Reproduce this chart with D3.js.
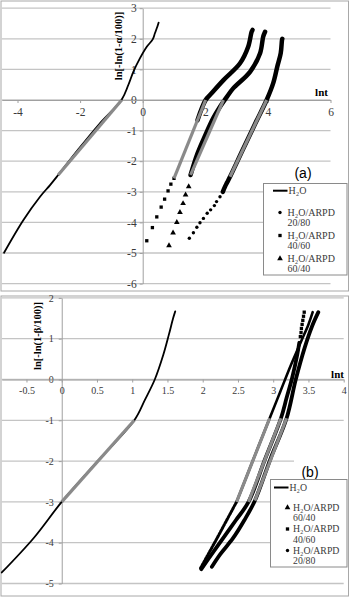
<!DOCTYPE html>
<html>
<head>
<meta charset="utf-8">
<script src="https://cdn.jsdelivr.net/npm/d3@7.8.5/dist/d3.min.js"></script>
<style>
  body { margin: 0; background: #fff; }
  svg { display: block; }
</style>
</head>
<body>
<svg id="chart" width="351" height="598"></svg>
<script>
// ---- panel (a): ln[-ln(1-alpha/100)] vs lnt ----
const aXTicks = [-4, -2, 0, 2, 4, 6];
const aYTicks = [3, 2, 1, 0, -1, -2, -3, -4, -5, -6];

const aH2O = [[-4.43, -4.99], [-3.81, -3.92], [-3.28, -3.16], [-2.96, -2.78], [-2.70, -2.45],
  [-2.07, -1.63], [-1.40, -0.80], [-0.67, 0.02], [-0.46, 0.49], [-0.30, 0.92], [-0.09, 1.36],
  [0.13, 1.74], [0.32, 1.98], [0.39, 2.18], [0.47, 2.40], [0.51, 2.53]];
const aH2OFit = [[-2.70, -2.45], [-0.67, 0.0]];

// 20/80 (circles)
const a2080Pts = [[1.49, -4.52], [1.62, -4.34], [1.73, -4.16], [1.83, -4.01], [1.94, -3.87],
  [2.06, -3.70], [2.17, -3.59], [2.29, -3.45], [2.36, -3.32], [2.47, -3.16], [2.56, -3.00]];
const a2080Dense = [[2.56, -3.00], [2.63, -2.83], [2.70, -2.69], [2.79, -2.51], [3.20, -1.62],
  [3.60, -0.76], [3.96, 0.0], [4.17, 0.55], [4.30, 1.09], [4.41, 1.53], [4.45, 1.96], [4.46, 2.0]];
const a2080Fit = [[2.79, -2.51], [3.96, 0.0]];

// 40/60 (squares)
const a4060Pts = [[0.13, -4.60], [0.31, -4.17], [0.45, -3.82], [0.59, -3.50], [0.70, -3.24],
  [0.81, -2.97], [0.90, -2.75], [1.00, -2.56]];
const a4060Dense = [[1.75, -0.66], [2.01, 0.0], [2.20, 0.22], [2.58, 0.65], [3.11, 1.20],
  [3.37, 1.74], [3.48, 2.23], [3.51, 2.29]];
const a4060Fit = [[1.00, -2.56], [2.01, 0.0]];

// 60/40 (triangles)
const a6040Pts = [[0.84, -4.76], [0.97, -4.34], [1.09, -4.00], [1.19, -3.67], [1.29, -3.38],
  [1.37, -3.10], [1.47, -2.83]];
const a6040Dense = [[1.53, -2.45], [1.75, -1.75], [2.00, -1.15], [2.25, -0.60], [2.47, -0.22],
  [2.70, 0.12], [2.89, 0.38], [3.43, 0.92], [3.75, 1.53], [3.85, 2.07], [3.91, 2.23]];
const a6040Fit = [[1.53, -2.45], [2.58, 0.0]];

// ---- panel (b): ln[-ln(1-beta/100)] vs lnt ----
const bXTicks = [-0.5, 0, 0.5, 1, 1.5, 2, 2.5, 3, 3.5, 4];
const bYTicks = [2, 1, 0, -1, -2, -3, -4, -5];

const bH2O = [[-0.85, -4.73], [-0.40, -3.89], [0.0, -3.0], [0.5, -2.02], [1.03, -1.0],
  [1.18, -0.5], [1.32, 0.0], [1.44, 0.6], [1.52, 1.1], [1.58, 1.5], [1.61, 1.67]];
const bH2OFit = [[0.0, -3.0], [1.03, -1.0]];

// 60/40 (triangles)
const b6040Low = [[1.97, -4.62], [2.06, -4.34], [2.20, -3.90], [2.34, -3.45], [2.48, -3.0]];
const b6040High = [[2.48, -3.0], [2.72, -1.95], [2.95, -0.95], [3.10, -0.30], [3.25, 0.35],
  [3.40, 0.95], [3.50, 1.35], [3.56, 1.65]];
const b6040Fit = [[2.48, -3.0], [2.95, -0.95]];

// 40/60 (squares)
const b4060Dense = [[1.98, -4.65], [2.10, -4.35], [2.29, -3.89], [2.47, -3.45], [2.65, -3.0],
  [2.88, -1.97], [3.11, -0.95], [3.19, -0.45], [3.27, 0.05], [3.34, 0.6], [3.37, 0.9]];
const b4060Pts = [[3.385, 1.05], [3.395, 1.15], [3.40, 1.25], [3.41, 1.35], [3.42, 1.45],
  [3.43, 1.55], [3.44, 1.65]];
const b4060Fit = [[2.65, -3.0], [3.11, -0.95]];

// 20/80 (circles)
const b2080Dense = [[2.13, -4.59], [2.25, -4.28], [2.43, -3.89], [2.59, -3.45], [2.74, -2.97],
  [2.96, -1.95], [3.19, -0.95], [3.32, 0.0], [3.45, 0.8], [3.55, 1.3], [3.64, 1.65]];
const b2080Fit = [[2.74, -2.97], [3.19, -0.95]];

const legendA = [
  { type: 'line', text: ['H₂O'] },
  { type: 'circle', text: ['H₂O/ARPD', '20/80'] },
  { type: 'square', text: ['H₂O/ARPD', '40/60'] },
  { type: 'triangle', text: ['H₂O/ARPD', '60/40'] }
];
const legendB = [
  { type: 'line', text: ['H₂O'] },
  { type: 'triangle', text: ['H₂O/ARPD', '60/40'] },
  { type: 'square', text: ['H₂O/ARPD', '40/60'] },
  { type: 'circle', text: ['H₂O/ARPD', '20/80'] }
];

const svg = d3.select('#chart');
const SERIF = "'Liberation Serif', 'Times New Roman', serif";
const SANS = "'Liberation Sans', Arial, sans-serif";
const GRID = '#c4c4c4';
const FIT = '#8a8a8a';

const symbols = {
  circle: d3.symbol().type(d3.symbolCircle).size(9),
  square: d3.symbol().type(d3.symbolSquare).size(11),
  triangle: d3.symbol().type(d3.symbolTriangle).size(14)
};

function drawPanel(p) {
  const g = svg.append('g');

  g.append('rect')
    .attr('x', p.frame[0]).attr('y', p.frame[1])
    .attr('width', p.frame[2]).attr('height', p.frame[3])
    .attr('fill', '#fff').attr('stroke', '#a8a8a8').attr('stroke-width', 1);

  const x = d3.scaleLinear().domain(p.xDomain).range(p.xRange);
  const y = d3.scaleLinear().domain(p.yDomain).range(p.yRange);

  // horizontal gridlines
  g.append('g').selectAll('line')
    .data(p.yTicks)
    .join('line')
    .attr('x1', p.xRange[0]).attr('x2', p.xRange[1])
    .attr('y1', d => y(d)).attr('y2', d => y(d))
    .attr('stroke', GRID).attr('stroke-width', 1.3);

  // axes crossing at 0
  const yAxis = d3.axisLeft(y).tickValues(p.yTicks).tickSize(3).tickSizeOuter(0)
    .tickPadding(p.yPad).tickFormat(d => String(d));
  const xAxis = d3.axisBottom(x).tickValues(p.xTicks).tickSize(3).tickSizeOuter(0)
    .tickPadding(p.xPad).tickFormat(d => String(d));

  const ya = g.append('g').attr('transform', `translate(${x(0)},0)`).call(yAxis);
  const xa = g.append('g').attr('transform', `translate(0,${y(0)})`).call(xAxis);
  [ya, xa].forEach(a => {
    a.attr('font-family', null).attr('font-size', null);
    a.select('.domain').attr('stroke', '#a0a0a0').attr('stroke-width', 1);
    a.selectAll('.tick line').attr('stroke', '#a0a0a0');
    a.selectAll('.tick text')
      .attr('fill', '#3a3a3a')
      .style('font-family', SERIF)
      .style('font-size', p.tickFont + 'px');
  });

  // axis titles
  g.append('text')
    .attr('transform', `translate(${p.yTitle[0]},${p.yTitle[1]}) rotate(-90)`)
    .attr('text-anchor', 'middle')
    .style('font-family', SERIF).style('font-size', '10.5px').style('font-weight', 'bold')
    .text(p.yTitleText);
  g.append('text')
    .attr('x', p.xTitle[0]).attr('y', p.xTitle[1])
    .attr('text-anchor', 'middle')
    .style('font-family', SERIF).style('font-size', '11px').style('font-weight', 'bold')
    .text('lnt');

  const line = d3.line().x(d => x(d[0])).y(d => y(d[1])).curve(d3.curveCatmullRom.alpha(0.5));
  const marks = g.append('g');

  p.series.forEach(s => {
    if (s.path) {
      marks.append('path')
        .attr('d', line(s.path))
        .attr('fill', 'none')
        .attr('stroke', '#000')
        .attr('stroke-width', s.width)
        .attr('stroke-linecap', 'round')
        .attr('stroke-dasharray', s.dash || null);
    }
    if (s.points) {
      marks.append('g').selectAll('path')
        .data(s.points)
        .join('path')
        .attr('transform', d => `translate(${x(d[0])},${y(d[1])})`)
        .attr('d', symbols[s.symbol]())
        .attr('fill', '#000');
    }
  });

  // linear fits drawn over the data
  p.fits.forEach(f => {
    marks.append('line')
      .attr('x1', x(f[0][0])).attr('y1', y(f[0][1]))
      .attr('x2', x(f[1][0])).attr('y2', y(f[1][1]))
      .attr('stroke', FIT).attr('stroke-width', 3.2);
  });

  // panel letter
  if (p.letterBox) {
    g.append('rect')
      .attr('x', p.letterBox[0]).attr('y', p.letterBox[1])
      .attr('width', p.letterBox[2]).attr('height', p.letterBox[3])
      .attr('fill', '#fff');
  }
  g.append('text')
    .attr('x', p.letter[0]).attr('y', p.letter[1])
    .attr('text-anchor', 'middle')
    .style('font-family', SANS).style('font-size', '14px')
    .text(p.letterText);

  // legend
  const L = p.legend;
  const lg = g.append('g');
  lg.append('rect')
    .attr('x', L.box[0]).attr('y', L.box[1]).attr('width', L.box[2]).attr('height', L.box[3])
    .attr('fill', '#fff').attr('stroke', '#8a8a8a').attr('stroke-width', 1);

  L.items.forEach((it, i) => {
    const cy = L.firstY + (i === 0 ? 0 : L.gap0 + (i - 1) * L.step);
    if (it.type === 'line') {
      lg.append('line')
        .attr('x1', L.lineX[0]).attr('x2', L.lineX[1]).attr('y1', cy).attr('y2', cy)
        .attr('stroke', '#000').attr('stroke-width', 2);
      lg.append('text').attr('x', L.lineX[1] + 1).attr('y', cy + 3.3)
        .attr('fill', '#3a3a3a')
        .style('font-family', SERIF).style('font-size', L.font + 'px')
        .text(it.text[0]);
    } else {
      lg.append('path')
        .attr('transform', `translate(${L.markX},${cy})`)
        .attr('d', symbols[it.type]())
        .attr('fill', '#000');
      it.text.forEach((str, j) => {
        lg.append('text').attr('x', L.textX).attr('y', cy + 3.3 + j * L.lineH)
          .attr('fill', '#3a3a3a')
          .style('font-family', SERIF).style('font-size', L.font + 'px')
          .text(str);
      });
    }
  });
}

drawPanel({
  frame: [1, 1, 347.5, 290],
  xDomain: [-4.5, 6], xRange: [1.85, 330.5],
  yDomain: [-6, 3], yRange: [283.6, 8.2],
  xTicks: aXTicks, yTicks: aYTicks,
  xPad: 5, yPad: 3, tickFont: 11.5,
  yTitle: [121.5, 46], yTitleText: 'ln[-ln(1-α/100)]',
  xTitle: [321.5, 95.5],
  series: [
    { path: aH2O, width: 1.8 },
    { path: a2080Dense, width: 4.5, points: a2080Pts, symbol: 'circle' },
    { path: a4060Dense, width: 4.5, points: a4060Pts, symbol: 'square' },
    { path: a6040Dense, width: 4.5, points: a6040Pts, symbol: 'triangle' }
  ],
  fits: [aH2OFit, a2080Fit, a4060Fit, a6040Fit],
  letter: [303, 178], letterText: '(a)',
  legend: {
    box: [263.5, 183.5, 83.5, 91.5], items: legendA,
    firstY: 190.7, gap0: 21.8, step: 23, lineH: 10.5,
    lineX: [273, 287.5], markX: 280, textX: 287.5, font: 10
  }
});

drawPanel({
  frame: [1, 296, 347.5, 300],
  xDomain: [-0.85, 4], xRange: [1.8, 343.7],
  yDomain: [-5, 2], yRange: [583.5, 297.9],
  xTicks: bXTicks, yTicks: bYTicks,
  xPad: 4, yPad: 5, tickFont: 10,
  yTitle: [40.5, 336], yTitleText: 'ln[-ln(1-β/100)]',
  xTitle: [337.5, 377.5],
  series: [
    { path: bH2O, width: 1.8 },
    { path: b6040Low, width: 3, dash: '1.6,1.6' },
    { path: b6040High, width: 2.6 },
    { path: b4060Dense, width: 3.8, points: b4060Pts, symbol: 'square' },
    { path: b2080Dense, width: 3.8 }
  ],
  fits: [bH2OFit, b6040Fit, b4060Fit, b2080Fit],
  letterBox: [294, 453, 52, 25], letter: [310, 477], letterText: '(b)',
  legend: {
    box: [270.5, 479.5, 76.5, 87.5], items: legendB,
    firstY: 487.5, gap0: 20, step: 21.5, lineH: 10.5,
    lineX: [274, 288.5], markX: 287.5, textX: 293, font: 9.8
  }
});
</script>
</body>
</html>
